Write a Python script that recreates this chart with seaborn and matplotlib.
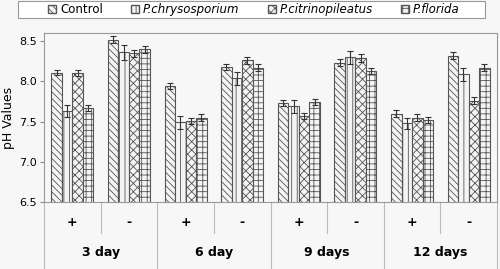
import numpy as np
import pandas as pd
import seaborn as sns
import matplotlib.pyplot as plt
from matplotlib.patches import Patch, Rectangle
from matplotlib.transforms import blended_transform_factory

# dados
days = ['3 day', '6 day', '9 days', '12 days']
treat = ['+', '-']
species = ['Control', 'P.chrysosporium', 'P.citrinopileatus', 'P.florida']

control = [8.11, 8.52, 7.94, 8.18, 7.73, 8.23, 7.60, 8.32]
chryso = [7.63, 8.36, 7.49, 8.04, 7.69, 8.30, 7.48, 8.09]
citrino = [8.10, 8.35, 7.51, 8.26, 7.57, 8.29, 7.55, 7.76]
florida = [7.67, 8.40, 7.55, 8.17, 7.74, 8.13, 7.52, 8.17]

err_control = [0.035, 0.04, 0.04, 0.04, 0.04, 0.045, 0.04, 0.045]
err_chryso = [0.07, 0.09, 0.08, 0.08, 0.08, 0.08, 0.07, 0.08]
err_citrino = [0.035, 0.045, 0.04, 0.04, 0.04, 0.05, 0.04, 0.04]
err_florida = [0.04, 0.045, 0.04, 0.04, 0.04, 0.04, 0.04, 0.04]

conds = [d + ' ' + t for d in days for t in treat]
values = [control, chryso, citrino, florida]
errors = [err_control, err_chryso, err_citrino, err_florida]

df = pd.DataFrame({
    'cond': conds * 4,
    'ph': sum(values, []),
    'species': [s for s in species for _ in conds],
})

plt.rcParams['hatch.linewidth'] = 0.6
plt.rcParams['hatch.color'] = '#444444'

fig = plt.figure(figsize=(5, 2.69), dpi=100, facecolor='#f7f7f7')
ax = fig.add_axes([0.088, 0.249, 0.906, 0.628], facecolor='#f7f7f7')

sns.barplot(data=df, x='cond', y='ph', hue='species', hue_order=species,
            order=conds, width=0.74, errorbar=None, legend=False, ax=ax,
            palette=['#f4f4f4'] * 4, edgecolor='#555555', linewidth=0.8)

hatches = ['\\\\\\\\\\', '|||', 'xxxx', '+++']
for cont, h, err in zip(ax.containers, hatches, errors):
    xs, hs = [], []
    for p in cont.patches:
        p.set_hatch(h)
        xs.append(p.get_x() + p.get_width() / 2)
        hs.append(p.get_height())
    ax.errorbar(xs, hs, yerr=err, fmt='none', ecolor='#333333',
                elinewidth=0.8, capsize=2.5, capthick=0.8)

ax.set_ylim(6.5, 8.6)
ax.set_xlim(-0.5, 7.5)
ax.set_yticks([6.5, 7.0, 7.5, 8.0, 8.5])
ax.set_yticklabels(['6.5', '7.0', '7.5', '8.0', '8.5'], fontsize=8)
ax.set_ylabel('pH Values', fontsize=9, labelpad=3)
ax.set_xlabel('')
ax.set_xticks(range(8))
ax.set_xticklabels(treat * 4, fontsize=9, fontweight='bold')
ax.tick_params(axis='x', length=0, pad=10)
ax.tick_params(axis='y', length=3, color='#888888', pad=2)
for s in ax.spines.values():
    s.set_color('#999999')
    s.set_linewidth(0.8)

# linhas e rotulos do eixo x em dois niveis
tr = blended_transform_factory(ax.transData, ax.transAxes)
for i in range(9):
    x = i - 0.5
    y1 = -0.39 if i % 2 == 0 else -0.183
    ax.plot([x, x], [0, y1], transform=tr, color='#bbbbbb', lw=0.8,
            clip_on=False)
for i, d in enumerate(days):
    ax.text(2 * i + 0.5, -0.3, d, transform=tr, ha='center', va='center',
            fontsize=9, fontweight='bold')

# caixa da legenda
fig.patches.append(Rectangle((0.036, 0.933), 0.934, 0.063,
                             transform=fig.transFigure, facecolor='#ffffff',
                             edgecolor='#999999', lw=0.8, zorder=0))
handles = [Patch(facecolor='#f4f4f4', edgecolor='#555555', hatch=h, label=s)
           for h, s in zip(hatches, species)]
leg = fig.legend(handles=handles, loc='center', ncol=4,
                 bbox_to_anchor=(0.508, 0.9645), fontsize=8.5,
                 frameon=False, handlelength=0.65, handleheight=0.65,
                 handletextpad=0.35, columnspacing=2.4, borderpad=0,
                 borderaxespad=0)
for t in leg.get_texts()[1:]:
    t.set_fontstyle('italic')

plt.savefig('out.png', dpi=100, facecolor=fig.get_facecolor())
